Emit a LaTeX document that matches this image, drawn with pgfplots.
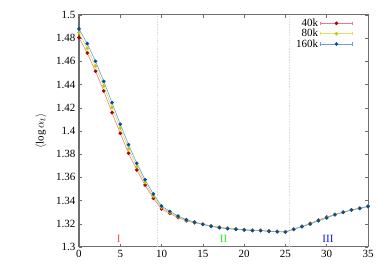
\documentclass[border=0pt]{standalone}
\usepackage{fontspec}
\setmainfont{Liberation Serif}
\usepackage{pgfplots}
\pgfplotsset{compat=1.18}
\definecolor{rmk}{RGB}{176,0,0}
\definecolor{rln}{RGB}{228,130,130}
\definecolor{ymk}{RGB}{200,200,0}
\definecolor{yln}{RGB}{225,225,90}
\definecolor{bmk}{RGB}{0,80,160}
\definecolor{bln}{RGB}{110,160,215}
\definecolor{axc}{RGB}{110,110,110}
\definecolor{lblr}{RGB}{255,70,70}
\definecolor{lblg}{RGB}{40,235,40}
\definecolor{lblb}{RGB}{20,20,240}
\begin{document}
\begin{tikzpicture}
\useasboundingbox (-79pt,-25pt) rectangle (308pt,247pt);
\begin{axis}[
  scale only axis,
  width=289pt, height=232pt,
  xmin=0, xmax=35, ymin=1.3, ymax=1.5,
  xtick={0,5,...,35},
  ytick={1.3,1.32,...,1.5},
  yticklabels={1.3,1.32,1.34,1.36,1.38,1.4,1.42,1.44,1.46,1.48,1.5},
  tick align=inside,
  major tick length=3pt,
  tick style={axc, line width=0.5pt},
  axis line style={axc, line width=1pt},
  every axis plot/.append style={line width=0.6pt},
  /pgf/number format/assume math mode=true,
  font=\fontsize{11}{13}\selectfont,
  ticklabel style={font=\fontsize{11}{13}\selectfont},
  ylabel={$\langle \log \alpha_t \rangle$},
  ylabel style={at={(axis description cs:0,0.5)}, anchor=south, yshift=29pt},
  legend cell align=right,
  legend plot pos=right,
  legend style={draw=none, fill=none, at={(axis cs:33.3,1.4995)}, anchor=north east,
    font=\fontsize{11}{13}\selectfont, row sep=-2.8pt, inner sep=1pt},
]
\draw[black!14, dash pattern=on 1.5pt off 1.2pt, line width=0.6pt] (axis cs:9.5,1.3) -- (axis cs:9.5,1.5);
\draw[black!14, dash pattern=on 1.5pt off 1.2pt, line width=0.6pt] (axis cs:25.5,1.3) -- (axis cs:25.5,1.5);

\addplot[rln, mark=*, mark size=1.5pt, mark options={rmk, fill=rmk},
  legend image code/.code={
    \draw[rln, line width=0.6pt] (0pt,0pt) -- (32pt,0pt);
    \draw[rln, line width=0.6pt] (0pt,-1.8pt) -- (0pt,1.8pt);
    \draw[rln, line width=0.6pt] (32pt,-1.8pt) -- (32pt,1.8pt);
    \fill[rmk] (16pt,0pt) circle (1.5pt);}]
coordinates {
(0,1.4805)(1,1.4672)(2,1.4515)(3,1.4345)(4,1.4158)(5,1.3980)(6,1.3808)(7,1.3664)(8,1.3534)(9,1.3420)
(10,1.3328)(11,1.3290)(12,1.3253)(13,1.3226)(14,1.3209)(15,1.3197)(16,1.3181)(17,1.3170)(18,1.3162)(19,1.3156)
(20,1.3150)(21,1.3145)(22,1.3143)(23,1.3138)(24,1.3134)(25,1.3131)(26,1.3154)(27,1.3178)(28,1.3203)(29,1.3232)
(30,1.3258)(31,1.3281)(32,1.3301)(33,1.3320)(34,1.3334)(35,1.3350)};
\addlegendentry{40k}

\addplot[yln, mark=*, mark size=1.5pt, mark options={ymk, fill=ymk},
  legend image code/.code={
    \draw[yln, line width=0.6pt] (0pt,0pt) -- (32pt,0pt);
    \draw[yln, line width=0.6pt] (0pt,-1.8pt) -- (0pt,1.8pt);
    \draw[yln, line width=0.6pt] (32pt,-1.8pt) -- (32pt,1.8pt);
    \fill[ymk] (16pt,0pt) circle (1.5pt);}]
coordinates {
(0,1.4847)(1,1.4713)(2,1.4560)(3,1.4388)(4,1.4204)(5,1.4025)(6,1.3847)(7,1.3693)(8,1.3555)(9,1.3437)
(10,1.3342)(11,1.3298)(12,1.3260)(13,1.3230)(14,1.3212)(15,1.3195)(16,1.3179)(17,1.3168)(18,1.3160)(19,1.3154)
(20,1.3148)(21,1.3143)(22,1.3142)(23,1.3136)(24,1.3133)(25,1.3130)(26,1.3153)(27,1.3176)(28,1.3200)(29,1.3229)
(30,1.3254)(31,1.3279)(32,1.3300)(33,1.3319)(34,1.3333)(35,1.3350)};
\addlegendentry{80k}

\addplot[bln, mark=*, mark size=1.5pt, mark options={bmk, fill=bmk},
  legend image code/.code={
    \draw[bln, line width=0.6pt] (0pt,0pt) -- (32pt,0pt);
    \draw[bln, line width=0.6pt] (0pt,-1.8pt) -- (0pt,1.8pt);
    \draw[bln, line width=0.6pt] (32pt,-1.8pt) -- (32pt,1.8pt);
    \fill[bmk] (16pt,0pt) circle (1.5pt);}]
coordinates {
(0,1.4880)(1,1.4753)(2,1.4601)(3,1.4428)(4,1.4244)(5,1.4058)(6,1.3882)(7,1.3722)(8,1.3580)(9,1.3457)
(10,1.3353)(11,1.3307)(12,1.3267)(13,1.3235)(14,1.3215)(15,1.3195)(16,1.3178)(17,1.3166)(18,1.3158)(19,1.3152)
(20,1.3147)(21,1.3141)(22,1.3141)(23,1.3135)(24,1.3132)(25,1.3129)(26,1.3152)(27,1.3175)(28,1.3198)(29,1.3227)
(30,1.3250)(31,1.3278)(32,1.3299)(33,1.3319)(34,1.3333)(35,1.3350)};
\addlegendentry{160k}

\node[text=lblr, font=\fontsize{11}{13}\selectfont] at (axis cs:4.8,1.3069) {I};
\node[text=lblg, font=\fontsize{11}{13}\selectfont] at (axis cs:17.5,1.3069) {II};
\node[text=lblb, font=\fontsize{11}{13}\selectfont] at (axis cs:30.15,1.3069) {III};
\end{axis}
\end{tikzpicture}
\end{document}
